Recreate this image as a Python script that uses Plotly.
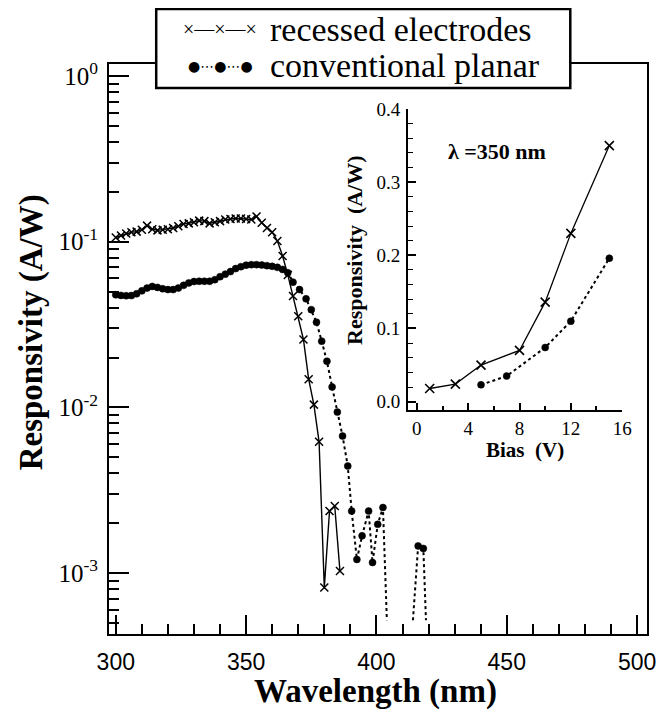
import plotly.graph_objects as go

# ---------------- data ----------------
wl_recessed = [300, 302, 304, 306, 308, 310, 312, 314, 316, 318,
               320, 322, 324, 326, 328, 330, 332, 334, 336, 338,
               340, 342, 344, 346, 348, 350, 352, 354, 356, 358,
               360, 362, 364, 366, 368, 370, 372, 374, 376, 378,
               380, 382, 384, 386]
resp_recessed = [0.106, 0.109, 0.112, 0.114, 0.115, 0.118, 0.125, 0.119, 0.117, 0.118,
                 0.119, 0.121, 0.124, 0.128, 0.129, 0.131, 0.134, 0.133, 0.129, 0.131,
                 0.133, 0.136, 0.137, 0.138, 0.138, 0.137, 0.136, 0.142, 0.130, 0.121,
                 0.114, 0.101, 0.082, 0.063, 0.047, 0.0355, 0.0257, 0.0148, 0.0104, 0.0062,
                 0.00082, 0.00237, 0.00254, 0.00103]

wl_conv = [300, 302, 304, 306, 308, 310, 312, 314, 316, 318,
           320, 322, 324, 326, 328, 330, 332, 334, 336, 338,
           340, 342, 344, 346, 348, 350, 352, 354, 356, 358,
           360, 362, 364, 366,
           368, 370.5, 373, 375, 377, 379, 381, 383, 385, 387,
           389, 390.5, 392.5, 394.5, 397, 398.5, 400.5, 402.5,
           404, 409, 414, 416, 418, 419]
resp_conv = [0.0478, 0.0474, 0.0472, 0.0473, 0.0485, 0.0505, 0.0525, 0.0537, 0.0530, 0.0520,
             0.0514, 0.0514, 0.0525, 0.0545, 0.0564, 0.0575, 0.0577, 0.0577, 0.0577, 0.0590,
             0.0615, 0.0637, 0.0660, 0.0688, 0.0707, 0.0722, 0.0727, 0.0727, 0.0723, 0.0717,
             0.0710, 0.0700, 0.0680, 0.0650,
             0.0570, 0.0514, 0.0452, 0.0389, 0.0327, 0.0251, 0.0190, 0.0133, 0.00937, 0.00672,
             0.00443, 0.00237, 0.00121, 0.00168, 0.00237, 0.00116, 0.00197, 0.00249,
             0.00052, None, 0.00052, 0.00146, 0.00141, 0.00052]

bias_rec = [1, 3, 5, 8, 10, 12, 15]
resp_bias_rec = [0.018, 0.024, 0.050, 0.070, 0.136, 0.230, 0.350]
bias_conv = [5, 7, 10, 12, 15]
resp_bias_conv = [0.023, 0.035, 0.074, 0.110, 0.196]

series_names = ["recessed electrodes", "conventional planar"]

x_major = [300, 350, 400, 450, 500]
x_minor = [310, 320, 330, 340, 360, 370, 380, 390, 410, 420, 430, 440, 460, 470, 480, 490]
y_major = [1, 0.1, 0.01, 0.001]
y_major_text = ["10<sup>0</sup>", "10<sup>-1</sup>", "10<sup>-2</sup>", "10<sup>-3</sup>"]
y_minor = [5e-4, 6e-4, 7e-4, 8e-4, 9e-4,
           2e-3, 3e-3, 4e-3, 5e-3, 6e-3, 7e-3, 8e-3, 9e-3,
           0.02, 0.03, 0.04, 0.05, 0.06, 0.07, 0.08, 0.09,
           0.2, 0.3, 0.4, 0.5, 0.6, 0.7, 0.8, 0.9]

bias_major = [0, 4, 8, 12, 16]
bias_minor = [2, 6, 10, 14]
inset_y_major = [0.0, 0.1, 0.2, 0.3, 0.4]
inset_y_text = ["0.0", "0.1", "0.2", "0.3", "0.4"]
inset_y_minor = [0.02, 0.04, 0.06, 0.08, 0.12, 0.14, 0.16, 0.18,
                 0.22, 0.24, 0.26, 0.28, 0.32, 0.34, 0.36, 0.38]

# ---------------- figure ----------------
SERIF = "Liberation Serif, Times New Roman, serif"
SANS = "Liberation Sans, Arial, sans-serif"

# the page body adds an 8 px margin; the figure is sized so that it fills the window
OFF = 8
W, H = 666 - OFF, 714 - OFF
L, T = 109 - OFF, 64 - OFF
R, B = 10, 80
PW, PH = W - L - R, H - T - B


def px(xp):
    """window pixel x (reference picture) -> paper coordinate"""
    return (xp - OFF - L) / PW


def py(yp):
    """window pixel y (reference picture) -> paper coordinate"""
    return (H - B - (yp - OFF)) / PH


fig = go.Figure()

fig.add_trace(go.Scatter(
    x=wl_recessed, y=resp_recessed, name=series_names[0], mode="lines+markers",
    line=dict(color="black", width=1.4),
    marker=dict(symbol="x-thin", size=8, opacity=1, line=dict(color="black", width=1.5)),
    xaxis="x", yaxis="y", showlegend=False))

conv_sizes = [0 if (v is not None and v < 6e-4) else 7 for v in resp_conv]
fig.add_trace(go.Scatter(
    x=wl_conv, y=resp_conv, name=series_names[1], mode="lines+markers",
    line=dict(color="black", width=2, dash="dot"),
    marker=dict(symbol="circle", size=conv_sizes, color="black", opacity=1,
                line=dict(color="black", width=0.5)),
    connectgaps=False, xaxis="x", yaxis="y", showlegend=False))

fig.add_trace(go.Scatter(
    x=bias_rec, y=resp_bias_rec, name=series_names[0], mode="lines+markers",
    line=dict(color="black", width=1.3),
    marker=dict(symbol="x-thin", size=9, opacity=1, line=dict(color="black", width=1.6)),
    xaxis="x2", yaxis="y2", showlegend=False))

fig.add_trace(go.Scatter(
    x=bias_conv, y=resp_bias_conv, name=series_names[1], mode="lines+markers",
    line=dict(color="black", width=2, dash="dot"),
    marker=dict(symbol="circle", size=7, color="black", opacity=1,
                line=dict(color="black", width=0.5)),
    xaxis="x2", yaxis="y2", showlegend=False))

fig.update_layout(
    width=W, height=H, autosize=False,
    margin=dict(l=L, r=R, t=T, b=B),
    paper_bgcolor="white", plot_bgcolor="white",
    showlegend=False,
    xaxis=dict(
        domain=[0, 1], range=[297.4, 503.8], anchor="y",
        tickmode="array", tickvals=x_major,
        ticks="inside", ticklen=19, tickwidth=1.5, tickcolor="black",
        minor=dict(tickmode="array", tickvals=x_minor, ticks="inside",
                   ticklen=10, tickwidth=1.5, tickcolor="black", showgrid=False),
        showline=True, linewidth=2, linecolor="black", mirror=True,
        showgrid=False, zeroline=False,
        tickfont=dict(family=SANS, size=23, color="black"),
        ticklabelstandoff=6,
    ),
    yaxis=dict(
        domain=[0, 1], type="log", range=[-3.367, 0.072], anchor="x",
        tickmode="array", tickvals=y_major, ticktext=y_major_text,
        ticks="inside", ticklen=20, tickwidth=1.5, tickcolor="black",
        minor=dict(tickmode="array", tickvals=y_minor, ticks="inside",
                   ticklen=10, tickwidth=1.5, tickcolor="black", showgrid=False),
        showline=True, linewidth=2, linecolor="black", mirror=True,
        showgrid=False, zeroline=False,
        tickfont=dict(family=SERIF, size=25, color="black"),
        ticklabelstandoff=4,
    ),
    xaxis2=dict(
        domain=[px(413), px(631)], range=[-0.69, 16.02], anchor="y2",
        tickmode="array", tickvals=bias_major,
        ticks="inside", ticklen=7, tickwidth=1.5, tickcolor="black",
        minor=dict(tickmode="array", tickvals=bias_minor, ticks="inside",
                   ticklen=4, tickwidth=1.5, tickcolor="black", showgrid=False),
        showline=True, linewidth=1.8, linecolor="black", mirror=False,
        showgrid=False, zeroline=False,
        tickfont=dict(family=SERIF, size=19, color="black"),
        ticklabelstandoff=0,
    ),
    yaxis2=dict(
        domain=[py(410), py(109)], range=[-0.0114, 0.4], anchor="x2",
        tickmode="array", tickvals=inset_y_major, ticktext=inset_y_text,
        ticks="inside", ticklen=8, tickwidth=1.5, tickcolor="black",
        minor=dict(tickmode="array", tickvals=inset_y_minor, ticks="inside",
                   ticklen=5, tickwidth=1.3, tickcolor="black", showgrid=False),
        showline=True, linewidth=1.8, linecolor="black", mirror=False,
        showgrid=False, zeroline=False,
        tickfont=dict(family=SERIF, size=19, color="black"),
        ticklabelstandoff=2,
    ),
)

# legend box (drawn above the top frame line)
fig.add_shape(type="rect", xref="paper", yref="paper",
              x0=px(157), x1=px(578), y0=py(88), y1=py(9),
              line=dict(color="black", width=2.5), fillcolor="white", layer="above")

annotations = [
    # legend samples and labels
    dict(x=px(222), y=py(29), text="×—×—×", font=dict(family=SERIF, size=20, color="black"),
         xanchor="center", yanchor="middle"),
    dict(x=px(222), y=py(66), text="●⋯●⋯●", font=dict(family="DejaVu Sans", size=14, color="black"),
         xanchor="center", yanchor="middle"),
    dict(x=px(272), y=py(29), text=series_names[0], font=dict(family=SERIF, size=34, color="black"),
         xanchor="left", yanchor="middle", borderpad=0),
    dict(x=px(272), y=py(65), text=series_names[1], font=dict(family=SERIF, size=34, color="black"),
         xanchor="left", yanchor="middle", borderpad=0),
    # axis titles
    dict(x=px(30), y=py(332), text="<b>Responsivity (A/W)</b>", textangle=-90,
         font=dict(family=SERIF, size=33, color="black"), xanchor="center", yanchor="middle"),
    dict(x=px(380), y=py(691), text="<b>Wavelength (nm)</b>",
         font=dict(family=SERIF, size=33, color="black"), xanchor="center", yanchor="middle"),
    # inset texts
    dict(x=px(358), y=py(250), text="<b>Responsivity\u00a0 (A/W)</b>", textangle=-90,
         font=dict(family=SERIF, size=22, color="black"), xanchor="center", yanchor="middle"),
    dict(x=px(532), y=py(450), text="<b>Bias\u00a0 (V)</b>",
         font=dict(family=SERIF, size=21, color="black"), xanchor="center", yanchor="middle"),
    dict(x=px(503), y=py(151), text="<b>λ =350 nm</b>",
         font=dict(family=SERIF, size=22, color="black"), xanchor="center", yanchor="middle"),
]
for a in annotations:
    a.update(xref="paper", yref="paper", showarrow=False)
    fig.add_annotation(**a)

fig.write_html("out.html")
